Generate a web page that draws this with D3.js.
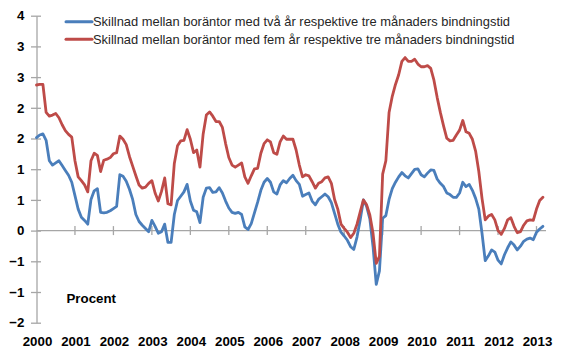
<!DOCTYPE html>
<html><head><meta charset="utf-8">
<script src="https://cdn.jsdelivr.net/npm/d3@7"></script>
<style>
html,body{margin:0;padding:0;background:#fff;}
svg{display:block;font-family:"Liberation Sans",Arial,sans-serif;}
</style></head>
<body>
<svg id="chart" width="580" height="357"></svg>
<script>
const startYear = 2000;
const yearLabels = [2000,2001,2002,2003,2004,2005,2006,2007,2008,2009,2010,2011,2012,2013];
const seriesNames = [
  "Skillnad mellan boräntor med två år respektive tre månaders bindningstid",
  "Skillnad mellan boräntor med fem år respektive tre månaders bindningstid"
];
// Monthly values from Jan 2000
const tvaAr = [1.73,1.78,1.80,1.68,1.30,1.22,1.26,1.30,1.21,1.12,1.03,0.90,
0.65,0.40,0.25,0.19,0.12,0.58,0.74,0.78,0.34,0.33,0.34,0.37,
0.41,0.45,1.04,1.01,0.92,0.77,0.58,0.30,0.17,0.10,0.04,-0.02,
0.19,0.08,-0.05,-0.02,0.12,-0.22,-0.22,0.30,0.56,0.64,0.72,0.86,
0.55,0.38,0.35,0.15,0.62,0.79,0.80,0.71,0.72,0.80,0.70,0.55,
0.42,0.34,0.32,0.34,0.30,0.07,0.02,0.13,0.33,0.53,0.75,0.90,
0.97,0.90,0.72,0.68,0.85,0.93,0.89,0.97,1.03,0.93,0.86,0.64,
0.67,0.70,0.55,0.48,0.58,0.63,0.68,0.63,0.52,0.32,0.12,-0.03,
-0.10,-0.18,-0.30,-0.35,-0.12,0.20,0.57,0.45,0.22,-0.30,-1.00,-0.75,
0.23,0.28,0.58,0.78,0.90,1.00,1.08,1.02,0.98,1.06,1.14,1.15,
1.04,1.00,1.07,1.13,1.12,0.96,0.88,0.82,0.70,0.67,0.62,0.62,
0.70,0.90,0.82,0.86,0.75,0.60,0.40,-0.05,-0.56,-0.47,-0.36,-0.40,
-0.55,-0.62,-0.45,-0.32,-0.21,-0.27,-0.36,-0.29,-0.20,-0.16,-0.14,-0.17,
-0.03,0.03,0.08];
const femAr = [2.71,2.72,2.72,2.20,2.13,2.15,2.18,2.10,1.97,1.86,1.79,1.74,
1.30,1.00,0.93,0.85,0.72,1.30,1.44,1.40,1.10,1.31,1.33,1.36,
1.43,1.45,1.76,1.70,1.60,1.38,1.20,1.02,0.85,0.79,0.81,0.88,
0.93,0.70,0.55,0.73,0.98,0.50,0.48,1.25,1.58,1.67,1.68,1.88,
1.70,1.45,1.50,1.18,1.80,2.15,2.21,2.13,2.03,2.03,1.92,1.62,
1.36,1.22,1.18,1.22,1.26,1.00,0.88,1.02,1.15,1.16,1.44,1.62,
1.69,1.65,1.45,1.42,1.65,1.76,1.70,1.70,1.70,1.50,1.22,1.00,
1.04,1.02,0.91,0.79,0.88,0.91,0.98,1.00,0.88,0.58,0.40,0.12,
0.04,-0.03,-0.13,-0.05,0.12,0.35,0.57,0.48,0.29,-0.05,-0.61,-0.48,
1.05,1.30,2.20,2.50,2.72,2.90,3.15,3.22,3.15,3.15,3.19,3.10,
3.05,3.05,3.07,3.02,2.80,2.48,2.20,1.95,1.72,1.67,1.68,1.78,
1.87,2.05,1.84,1.81,1.70,1.48,1.10,0.60,0.20,0.27,0.30,0.20,
0.00,-0.07,0.04,0.20,0.24,0.08,-0.04,-0.02,0.10,0.18,0.20,0.19,
0.40,0.56,0.62];
const yTickValues = [-3,-2,-1,0,1,2,3,4,5,6,7].map(k => k*4/7);
const colors = ["#4a7ebb", "#be4b48"];
const yLabel = "Procent";

const svg = d3.select("#chart");
const x = d3.scaleLinear().domain([2000, 2013]).range([36.5, 536.5]);
const y = d3.scaleLinear().domain([-12/7, 4]).range([322.7, 15.7]);
const axisColor = "#a6a6a6";

// Y axis
const yAxis = d3.axisLeft(y).tickValues(yTickValues).tickFormat(d3.format(".0f")).tickSize(0).tickPadding(12);
const gy = svg.append("g").attr("transform", "translate(36.5,0)").call(yAxis);
gy.select(".domain").attr("stroke", axisColor).attr("stroke-width", 1.3);
gy.selectAll("text").attr("font-size", 13.3).attr("font-weight", "bold").attr("fill", "#000")
  .attr("font-family", "Liberation Sans, Arial, sans-serif");
gy.selectAll(".tick").append("line").attr("x1", -5.5).attr("x2", 4.5).attr("stroke", axisColor).attr("stroke-width", 1.3);

// X axis line at zero
const x0 = y(0);
svg.append("line").attr("x1", 36.5).attr("x2", 546).attr("y1", x0).attr("y2", x0)
  .attr("stroke", axisColor).attr("stroke-width", 1.3);
const gx = svg.append("g");
gx.selectAll("line.tk").data(yearLabels.slice(1)).join("line").attr("class","tk")
  .attr("x1", d => x(d)).attr("x2", d => x(d)).attr("y1", x0 - 4.5).attr("y2", x0 + 4.5)
  .attr("stroke", axisColor).attr("stroke-width", 1.3);
gx.selectAll("text").data(yearLabels).join("text")
  .attr("x", d => x(d) + 1).attr("y", 345.5).attr("text-anchor", "middle")
  .attr("font-size", 13.3).attr("font-weight", "bold").attr("fill", "#000")
  .text(d => d);

// Lines
const line = d3.line().x((d, i) => x(startYear + i/12)).y(d => y(d)).curve(d3.curveLinear);
[tvaAr, femAr].forEach((s, k) => {
  svg.append("path").datum(s).attr("d", line).attr("fill", "none")
    .attr("stroke", colors[k]).attr("stroke-width", 2.8)
    .attr("stroke-linejoin", "round").attr("stroke-linecap", "round");
});

// Procent label
svg.append("text").attr("x", 66.5).attr("y", 303).attr("font-size", 13.3).attr("font-weight", "bold")
  .attr("fill", "#000").text(yLabel);

// Legend
const lg = svg.append("g");
seriesNames.forEach((n, k) => {
  const ly = 21.7 + k*17.6;
  lg.append("line").attr("x1", 66).attr("x2", 92).attr("y1", ly).attr("y2", ly)
    .attr("stroke", colors[k]).attr("stroke-width", 3).attr("stroke-linecap", "round");
  lg.append("text").attr("x", 93).attr("y", ly + 4.5).attr("font-size", 12.9)
    .attr("fill", "#262626").text(n);
});
</script>
</body></html>
